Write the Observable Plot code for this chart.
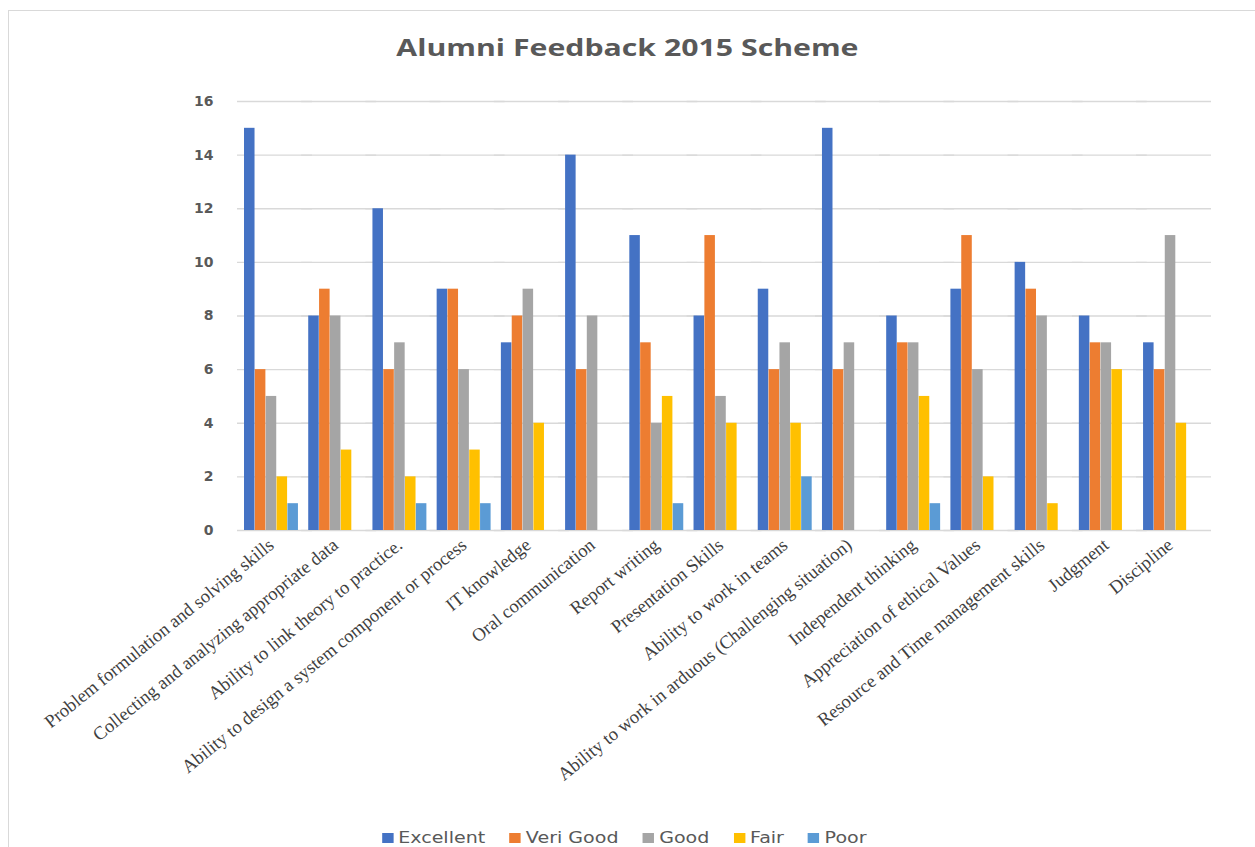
<!DOCTYPE html>
<html>
<head>
<meta charset="utf-8">
<script src="https://cdn.jsdelivr.net/npm/d3@7"></script>
<script src="https://cdn.jsdelivr.net/npm/@observablehq/plot@0.6"></script>
<style>
  body { margin: 0; background: #fff; width: 1255px; height: 847px; overflow: hidden; position: relative; }
  #frame { position: absolute; left: 8px; top: 10px; width: 1270px; height: 860px; border: 1px solid #d9d9d9; box-sizing: border-box; }
  #title { position: absolute; top: 30px; left: 0; width: 1255px; text-align: center; font-family: "Open Sans", sans-serif; font-weight: 700; font-size: 24px; color: #595959; }
  #title span { display: inline-block; transform: scaleX(1.26); }
  #chart { position: absolute; left: 0; top: 72px; }
  #legend { position: absolute; top: 829px; left: 0; width: 1255px; display: flex; justify-content: center; gap: 19px; font-family: "DejaVu Sans", sans-serif; font-size: 15px; color: #595959; transform: scaleX(1.27); transform-origin: 640px 0; }
  .item { display: flex; align-items: center; gap: 4px; }
  .sw { width: 9px; height: 10px; display: inline-block; }
</style>
</head>
<body>
<div id="frame"></div>
<div id="title"><span>Alumni Feedback 2015 Scheme</span></div>
<div id="chart"></div>
<div id="legend"></div>
<script>
const categories = [
  "Problem formulation and solving skills",
  "Collecting and analyzing appropriate data",
  "Ability to link theory to practice.",
  "Ability to design a system component or process",
  "IT knowledge",
  "Oral communication",
  "Report writing",
  "Presentation Skills",
  "Ability to work in teams",
  "Ability to work in arduous (Challenging situation)",
  "Independent thinking",
  "Appreciation of ethical Values",
  "Resource and Time management skills",
  "Judgment",
  "Discipline"
];
const seriesNames = ["Excellent", "Veri Good", "Good", "Fair", "Poor"];
const excellent = [15, 8, 12, 9, 7, 14, 11, 8, 9, 15, 8, 9, 10, 8, 7];
const veriGood  = [6, 9, 6, 9, 8, 6, 7, 11, 6, 6, 7, 11, 9, 7, 6];
const good      = [5, 8, 7, 6, 9, 8, 4, 5, 7, 7, 7, 6, 8, 7, 11];
const fair      = [2, 3, 2, 3, 4, 0, 5, 4, 4, 0, 5, 2, 1, 6, 4];
const poor      = [1, 0, 1, 1, 0, 0, 1, 0, 2, 0, 1, 0, 0, 0, 0];
const seriesColors = ["#4472C4", "#ED7D31", "#A5A5A5", "#FFC000", "#5B9BD5"];
const yTicks = [0, 2, 4, 6, 8, 10, 12, 14, 16];

const seriesValues = [excellent, veriGood, good, fair, poor];
const data = [];
categories.forEach((c, i) => {
  seriesNames.forEach((s, j) => {
    data.push({category: c, series: s, value: seriesValues[j][i]});
  });
});

const chart = Plot.plot({
  width: 1255,
  height: 750,
  marginLeft: 244,
  marginRight: 58,
  marginTop: 29,
  marginBottom: 292,
  fx: {domain: categories, paddingInner: 0.16, paddingOuter: 0, round: false, label: null},
  x: {domain: seriesNames, axis: null, paddingInner: 0.03, paddingOuter: 0, round: false},
  y: {domain: [0, 16]},
  color: {domain: seriesNames, range: seriesColors},
  marks: [
    Plot.ruleY(yTicks, {stroke: "#d9d9d9", strokeWidth: 1.3, insetLeft: -7, insetRight: -14}),
    Plot.barY(data, {fx: "category", x: "series", y: "value", fill: "series"}),
    Plot.axisY({ticks: yTicks, tickSize: 0, tickPadding: 31, fontSize: 14, fontWeight: "bold", color: "#595959", fontFamily: "DejaVu Sans", label: null}),
    Plot.axisFx({anchor: "bottom", tickRotate: -39, tickSize: 0, tickPadding: 12, fontSize: 18.5, fontFamily: "Liberation Serif", color: "#404040", label: null})
  ]
});
document.getElementById("chart").appendChild(chart);

const legend = document.getElementById("legend");
seriesNames.forEach((s, i) => {
  const item = document.createElement("div");
  item.className = "item";
  const sw = document.createElement("span");
  sw.className = "sw";
  sw.style.background = seriesColors[i];
  const t = document.createElement("span");
  t.textContent = s;
  item.appendChild(sw);
  item.appendChild(t);
  legend.appendChild(item);
});
</script>
</body>
</html>
